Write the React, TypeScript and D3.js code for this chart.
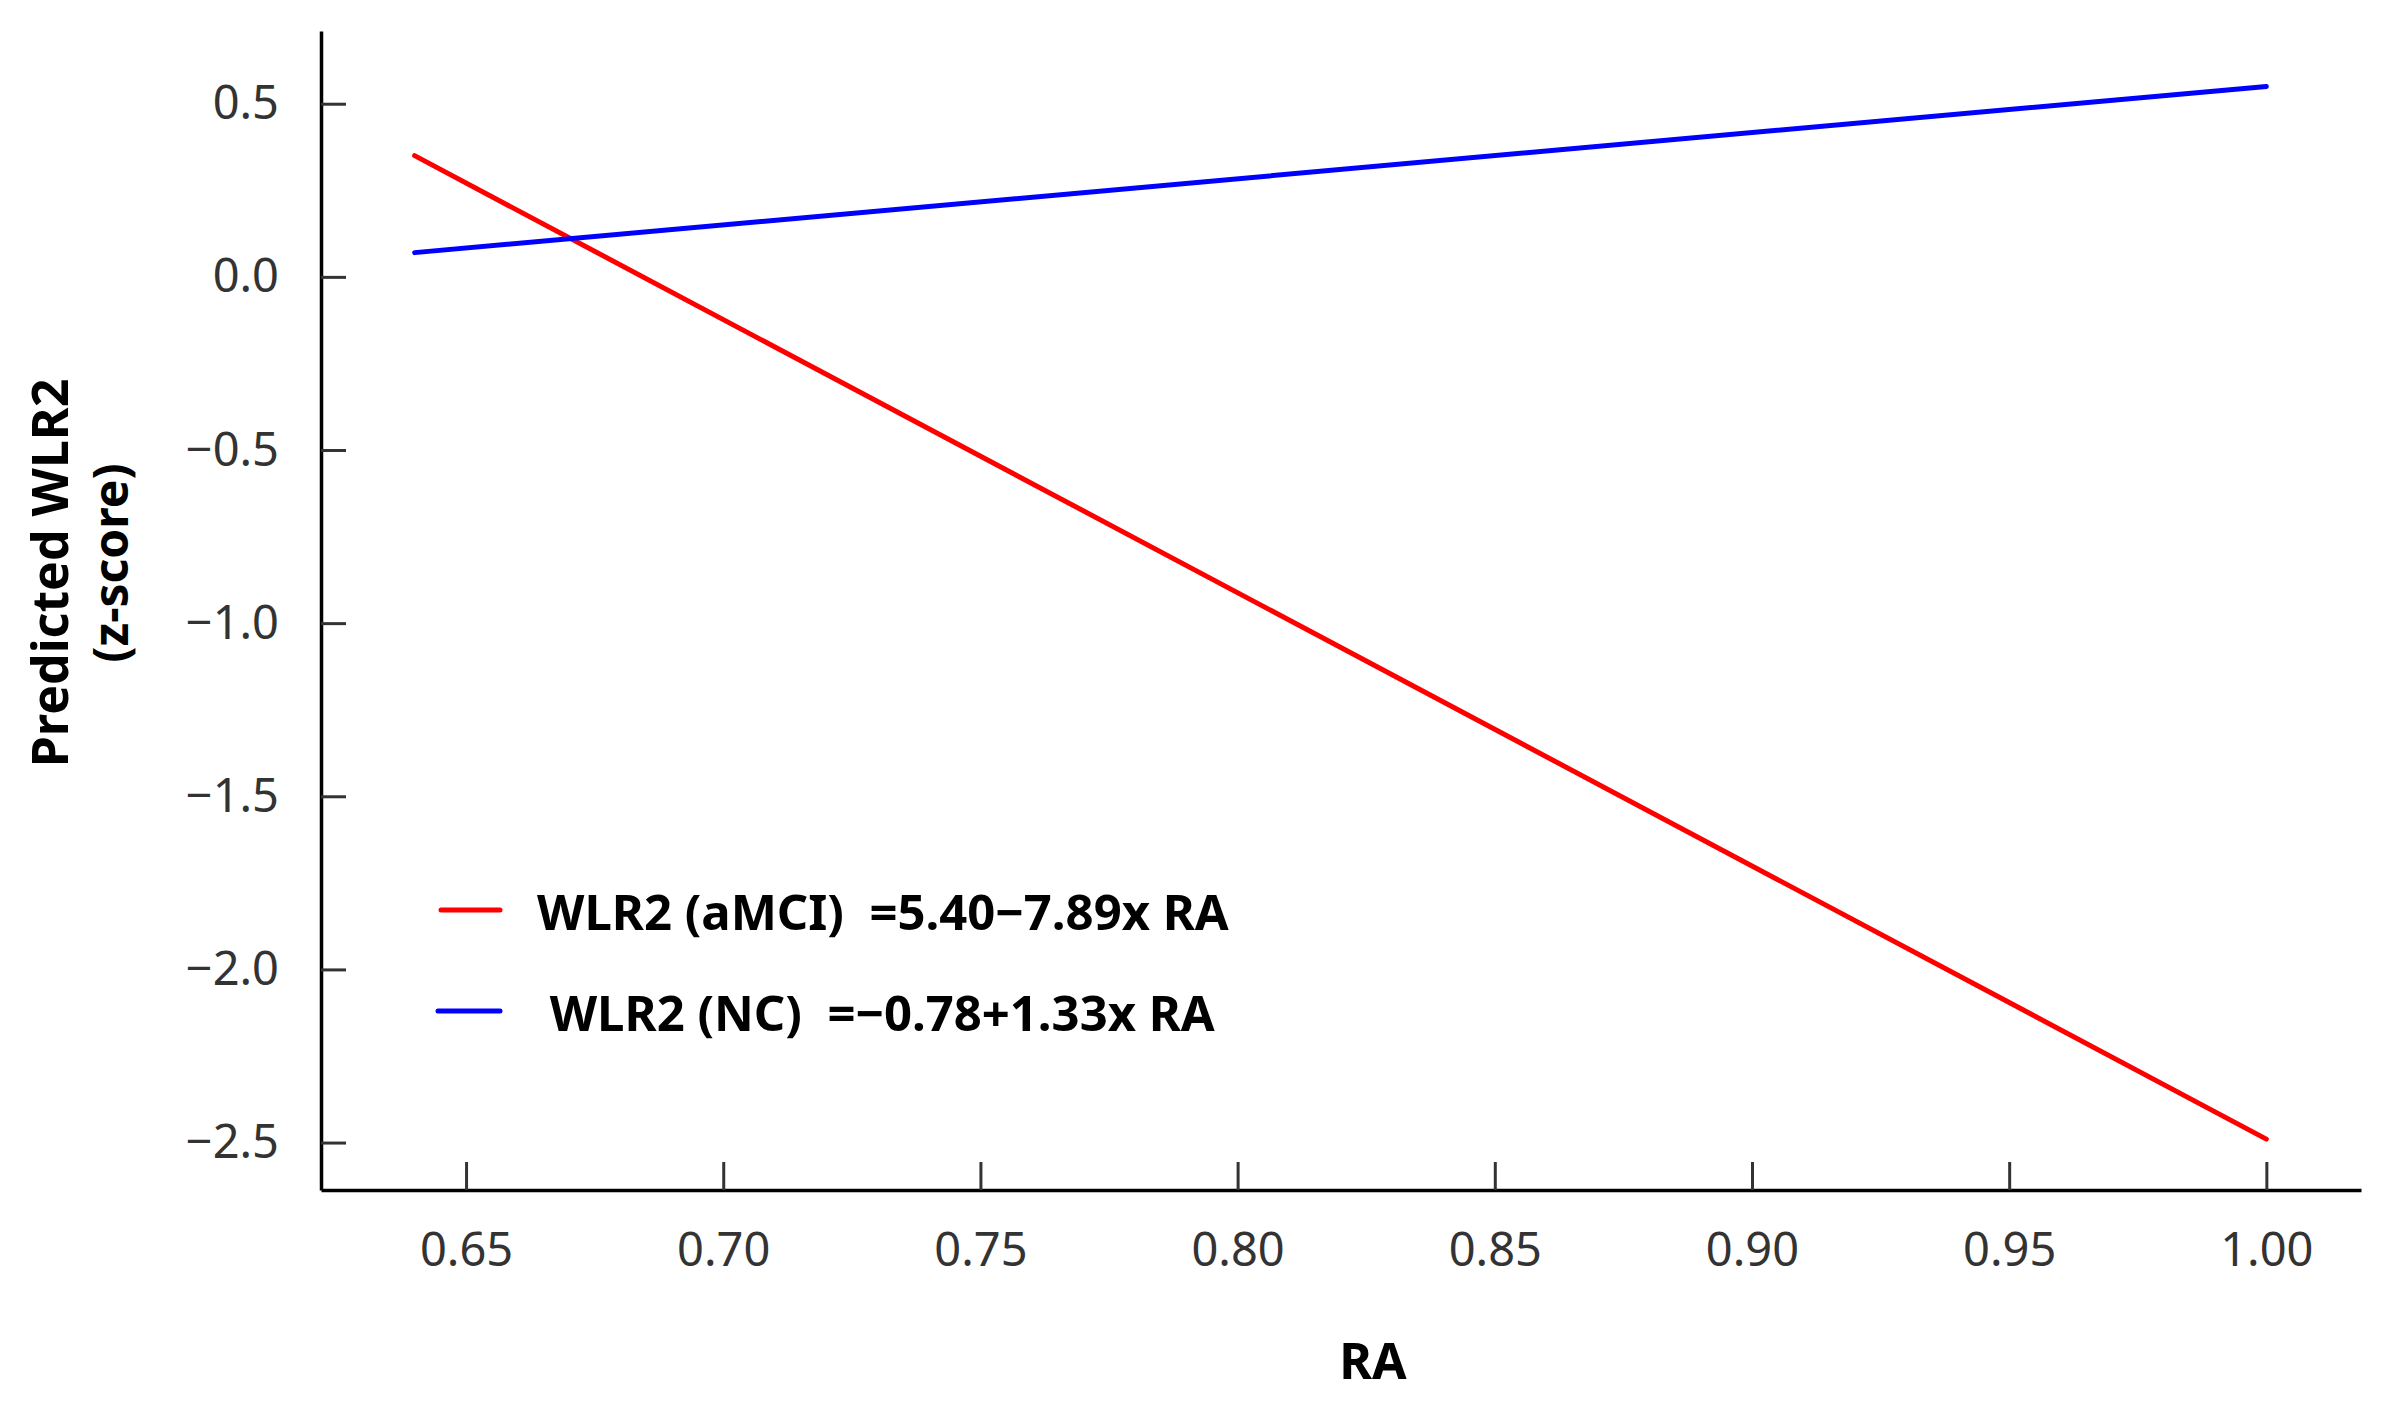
import React, { useEffect, useRef } from "react";
import * as d3 from "d3";

// RA (x) endpoints of the fitted lines
const raValues = [0.64, 1.0];
// predicted WLR2 z-score at those RA values
const amciPredicted = [0.35, -2.49];
const ncPredicted = [0.07, 0.55];

const xTicks = [0.65, 0.7, 0.75, 0.8, 0.85, 0.9, 0.95, 1.0];
const yTicks = [0.5, 0.0, -0.5, -1.0, -1.5, -2.0, -2.5];

const seriesNames = ["aMCI", "NC"];
const seriesColors = ["#ff0000", "#0000ff"];
const legendLabels = [
  "WLR2 (aMCI)  =5.40\u22127.89x RA",
  " WLR2 (NC)  =\u22120.78+1.33x RA",
];

const W = 2393;
const H = 1408;
const FONT = "'Noto Sans', 'Open Sans', sans-serif";

const App: React.FC = () => {
  const chartRef = useRef<SVGSVGElement | null>(null);

  useEffect(() => {
    if (!chartRef.current) return;
    const svg = d3.select(chartRef.current);
    svg.selectAll("*").remove();

    const margin = { top: 31, right: 32, bottom: 218, left: 321 };
    const width = W - margin.left - margin.right,
      height = H - margin.top - margin.bottom;

    const g = svg
      .append("g")
      .attr("transform", `translate(${margin.left},${margin.top})`);

    const xScale = d3.scaleLinear().domain([0.6218, 1.0184]).range([0, width]);
    const yScale = d3.scaleLinear().domain([0.71, -2.637]).range([0, height]);

    // Y axis
    const yAxis = g
      .append("g")
      .call(
        d3
          .axisLeft(yScale)
          .tickValues(yTicks)
          .tickFormat(d3.format(".1f") as any)
          .tickSizeInner(-25)
          .tickSizeOuter(0)
          .tickPadding(42)
      );

    // X axis
    const xAxis = g
      .append("g")
      .attr("transform", `translate(0,${height})`)
      .call(
        d3
          .axisBottom(xScale)
          .tickValues(xTicks)
          .tickFormat(d3.format(".2f") as any)
          .tickSizeInner(-28)
          .tickSizeOuter(0)
          .tickPadding(43)
      );

    [xAxis, yAxis].forEach((ax) => {
      ax.select(".domain").attr("stroke", "#000").attr("stroke-width", 3.5);
      ax.selectAll(".tick line").attr("stroke", "#333").attr("stroke-width", 3);
      ax.selectAll(".tick text")
        .attr("fill", "#333")
        .style("font-family", FONT)
        .style("font-size", "47px");
    });

    // fitted lines
    const lineGenerator = d3
      .line<number>()
      .x((_, i) => xScale(raValues[i]))
      .y((d) => yScale(d));

    [amciPredicted, ncPredicted].forEach((values, i) => {
      g.append("path")
        .datum(values)
        .attr("fill", "none")
        .attr("stroke", seriesColors[i])
        .attr("stroke-width", 5)
        .attr("stroke-linecap", "round")
        .attr("d", lineGenerator);
    });

    // legend
    const legend = svg.append("g");
    seriesNames.forEach((name, i) => {
      const ly = 910 + i * 101;
      legend
        .append("line")
        .attr("x1", i === 0 ? 441 : 438)
        .attr("x2", 500)
        .attr("y1", ly)
        .attr("y2", ly)
        .attr("stroke", seriesColors[i])
        .attr("stroke-width", 5)
        .attr("stroke-linecap", "round");
      legend
        .append("text")
        .attr("x", 537)
        .attr("y", ly + 20)
        .style("white-space", "pre")
        .style("font-family", FONT)
        .style("font-size", "49px")
        .style("font-weight", "bold")
        .attr("fill", "#000")
        .attr("data-series", name)
        .text(legendLabels[i]);
    });

    // axis titles
    svg
      .append("text")
      .attr("x", 1373)
      .attr("y", 1379)
      .attr("text-anchor", "middle")
      .style("font-family", FONT)
      .style("font-size", "50px")
      .style("font-weight", "bold")
      .text("RA");

    svg
      .append("text")
      .attr("transform", "translate(68,573) rotate(-90)")
      .attr("text-anchor", "middle")
      .style("font-family", FONT)
      .style("font-size", "50px")
      .style("font-weight", "bold")
      .text("Predicted WLR2");

    svg
      .append("text")
      .attr("transform", "translate(128,563) rotate(-90)")
      .attr("text-anchor", "middle")
      .style("font-family", FONT)
      .style("font-size", "48px")
      .style("font-weight", "bold")
      .text("(z-score)");
  }, []);

  return (
    <svg
      ref={chartRef}
      width={W}
      height={H}
      style={{ position: "absolute", left: 0, top: 0, background: "#fff" }}
    ></svg>
  );
};

export default App;
